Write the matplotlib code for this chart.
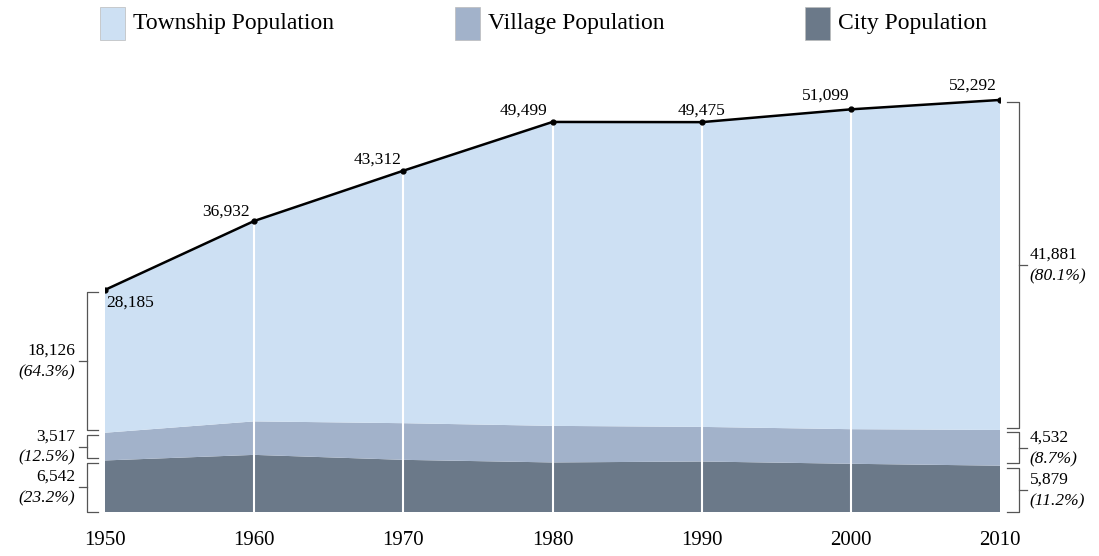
import matplotlib.pyplot as plt
from matplotlib.patches import Rectangle

years = [1950, 1960, 1970, 1980, 1990, 2000, 2010]
total = [28185, 36932, 43312, 49499, 49475, 51099, 52292]
city = [6542, 7250, 6620, 6290, 6410, 6120, 5879]
village = [3517, 4250, 4650, 4640, 4390, 4390, 4532]
township = [t - c - v for t, c, v in zip(total, city, village)]

col_town = '#cde0f3'
col_vill = '#a2b2ca'
col_city = '#6b7989'
serif = 'Liberation Serif'

fig = plt.figure(figsize=(10.99, 5.56), dpi=100)
ax = fig.add_axes([105 / 1099, 1 - 512 / 556, 895 / 1099, (512 - 78.6) / 556])
ax.stackplot(years, city, village, township, colors=[col_city, col_vill, col_town], linewidth=0)
ax.set_xlim(1950, 2010)
ax.set_ylim(0, 55000)

# white guide lines at the inner decades
for y, t in zip(years[1:-1], total[1:-1]):
    ax.plot([y, y], [0, t], color='white', lw=1.5, zorder=3)

ax.plot(years, total, color='black', lw=1.8, marker='o', ms=3.5, zorder=4)

# labels on the totals line
offsets = [(1, -9, 'left'), (-3, 7, 'right'), (-1, 8, 'right'), (-4, 8, 'right'),
           (0, 8, 'center'), (-1, 10, 'right'), (-2, 10, 'right')]
for y, t, (dx, dy, ha) in zip(years, total, offsets):
    ax.annotate(f'{t:,}', (y, t), xytext=(dx, dy), textcoords='offset points',
                ha=ha, va='center', fontsize=12.5, family=serif)

for s in ax.spines.values():
    s.set_visible(False)
ax.set_yticks([])
ax.set_xticks(years)
ax.set_xticklabels([str(y) for y in years], fontsize=15, family=serif)
ax.tick_params(axis='x', length=0, pad=14)

# brackets
def bracket(y0, y1, side, val, pct):
    if side == 'left':
        xv, xe, xt, xl, ha = 1948.8, 1949.5, 1948.25, 1948.0, 'right'
    else:
        xv, xe, xt, xl, ha = 2011.27, 2010.5, 2011.8, 2012.0, 'left'
    kw = dict(color='#555555', lw=0.9, clip_on=False)
    ax.plot([xe, xv, xv, xe], [y0, y0, y1, y1], **kw)
    ym = (y0 + y1) / 2
    ax.plot([xv, xt], [ym, ym], **kw)
    ax.annotate(f'{val:,}', (xl, ym), xytext=(0, 7.5), textcoords='offset points',
                ha=ha, va='center', fontsize=12.5, family=serif, annotation_clip=False)
    ax.annotate(f'({pct})', (xl, ym), xytext=(0, -8), textcoords='offset points',
                ha=ha, va='center', fontsize=12.5, family=serif, style='italic',
                annotation_clip=False)

bracket(city[0] + village[0] + 300, total[0] - 300, 'left', township[0], '64.3%')
bracket(city[0] + 300, city[0] + village[0] - 300, 'left', village[0], '12.5%')
bracket(0, city[0] - 300, 'left', city[0], '23.2%')
bracket(city[-1] + village[-1] + 300, total[-1] - 300, 'right', township[-1], '80.1%')
bracket(city[-1] + 300, city[-1] + village[-1] - 300, 'right', village[-1], '8.7%')
bracket(0, city[-1] - 300, 'right', city[-1], '11.2%')

# legend
legend_items = [('Township Population', col_town, 100), ('Village Population', col_vill, 455),
                ('City Population', col_city, 805)]
for label, c, px in legend_items:
    fig.add_artist(Rectangle((px / 1099, 1 - 40 / 556), 25 / 1099, 33 / 556,
                             transform=fig.transFigure, facecolor=c, edgecolor='#bbbbbb', lw=0.5))
    fig.text((px + 33) / 1099, 1 - 23 / 556, label, fontsize=17, family=serif,
             va='center', ha='left')

fig.savefig('out.png', dpi=100)
